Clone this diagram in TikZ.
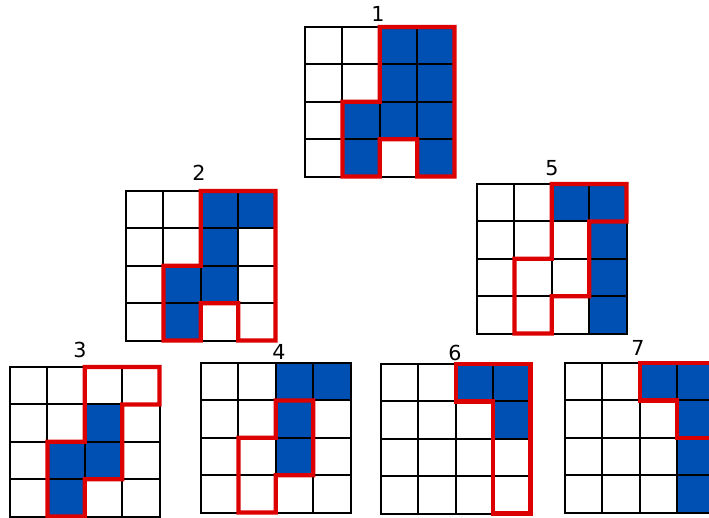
\documentclass[tikz,border=0pt]{standalone}
\usepackage{fontspec}
\setmainfont{DejaVu Sans}
\usetikzlibrary{backgrounds}
\definecolor{cellblue}{HTML}{0050B4}
\definecolor{pathred}{HTML}{DC0000}
\tikzset{
  cell/.style={draw, line width=1.5pt, minimum size=28.05pt,
               inner sep=0pt, outer sep=0pt, anchor=north west},
  redpath/.style={draw=pathred, line width=3.2pt},
  boardno/.style={font=\fontsize{15.5}{18}\selectfont, inner sep=0pt},
}
% 4x4 board of cells: name, left, top (in pixels)
\newcommand{\board}[3]{%
  \foreach \r in {0,...,3}{%
    \foreach \c in {0,...,3}{%
      \node[cell] (#1-\r\c) at ({#2+37.4*\c},{#3+37.4*\r}) {};
    }}}
% blue cells of a board, behind the grid
\newcommand{\bluecells}[2]{%
  \begin{scope}[on background layer]
    \foreach \rc in {#2}{\fill[cellblue] (#1-\rc.north west) rectangle (#1-\rc.south east);}
  \end{scope}}

\begin{document}
\begin{tikzpicture}[x=0.75pt, y=-0.75pt]
  \useasboundingbox (0,0) rectangle (709,517);

  % boards
  \board{g1}{305}{27}
  \board{g2}{126}{191}
  \board{g5}{477}{184}
  \board{g3}{10}{367}
  \board{g4}{201}{363}
  \board{g6}{381}{364}
  \board{g7}{565}{363}

  \bluecells{g1}{02,03,12,13,21,22,23,31,33}
  \bluecells{g2}{02,03,12,21,22,31}
  \bluecells{g3}{12,21,22,31}
  \bluecells{g4}{02,03,12,22}
  \bluecells{g5}{02,03,13,23,33}
  \bluecells{g6}{02,03,13}
  \bluecells{g7}{02,03,13,23,33}

  % numbers
  \node[boardno] (n1) at (378,14) {1};
  \node[boardno] (n2) at (199,173) {2};
  \node[boardno] (n5) at (552,168) {5};
  \node[boardno] (n3) at (80,350) {3};
  \node[boardno] (n4) at (279,352) {4};
  \node[boardno] (n6) at (455,353) {6};
  \node[boardno] (n7) at (638,348) {7};

  % red outlines
  \draw[redpath] (g1-02.north west) -- (g1-03.north east) -- (g1-33.south east)
    -- (g1-33.south west) -- (g1-33.north west) -- (g1-32.north west)
    -- (g1-32.south west) -- (g1-31.south west) -- (g1-21.north west)
    -- (g1-21.north east) -- cycle;
  \draw[redpath] (g2-02.north west) -- (g2-03.north east) -- (g2-33.south east)
    -- (g2-33.south west) -- (g2-33.north west) -- (g2-32.north west)
    -- (g2-32.south west) -- (g2-31.south west) -- (g2-21.north west)
    -- (g2-21.north east) -- cycle;
  \draw[redpath] (g3-02.north west) -- (g3-03.north east) -- (g3-03.south east)
    -- (g3-13.north west) -- (g3-22.south east) -- (g3-32.north west)
    -- (g3-32.south west) -- (g3-31.south west) -- (g3-21.north west)
    -- (g3-21.north east) -- cycle;
  \draw[redpath] (g5-02.north west) -- (g5-03.north east) -- (g5-03.south east)
    -- (g5-13.north west) -- (g5-22.south east) -- (g5-32.north west)
    -- (g5-32.south west) -- (g5-31.south west) -- (g5-21.north west)
    -- (g5-21.north east) -- cycle;
  \draw[redpath] (g4-12.north west) -- (g4-12.north east) -- (g4-22.south east)
    -- (g4-32.north west) -- (g4-31.south east) -- (g4-31.south west)
    -- (g4-21.north west) -- (g4-21.north east) -- cycle;
  \draw[redpath] (g6-02.north west) -- (g6-03.north east) -- (g6-33.south east)
    -- (g6-33.south west) -- (g6-13.north west) -- (g6-02.south east)
    -- (g6-02.south west) -- cycle;
  \draw[redpath] (g7-02.north west) -- (g7-03.north east) -- (g7-13.south east)
    -- (g7-13.south west) -- (g7-02.south east) -- (g7-02.south west) -- cycle;
\end{tikzpicture}
\end{document}
